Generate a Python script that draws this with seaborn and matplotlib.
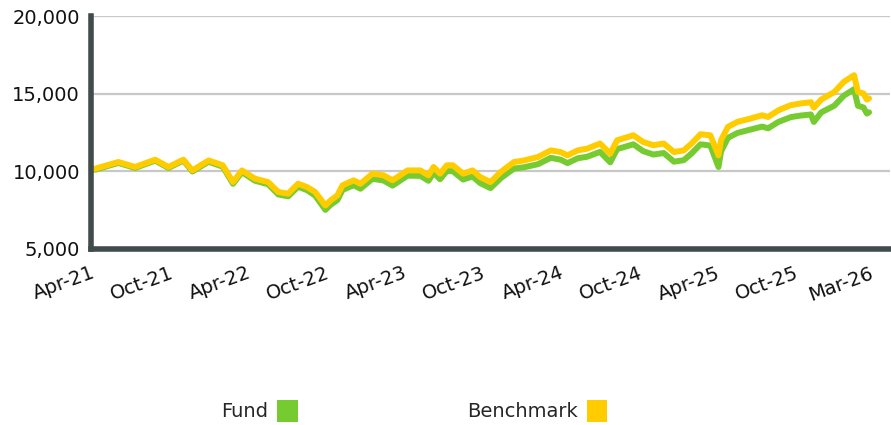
import matplotlib
matplotlib.use("Agg")
import matplotlib.pyplot as plt
import matplotlib.transforms as mtransforms
from matplotlib.patches import Patch
import pandas as pd
import seaborn as sns

dates = ["2021-04-01", "2021-04-11", "2021-06-04", "2021-07-13", "2021-08-29", "2021-09-29",
         "2021-11-03", "2021-11-24", "2022-01-01", "2022-02-03", "2022-02-27", "2022-03-20",
         "2022-04-19", "2022-05-20", "2022-06-13", "2022-07-06", "2022-07-29", "2022-08-19",
         "2022-09-07", "2022-10-01", "2022-10-13", "2022-10-29", "2022-11-10", "2022-12-06",
         "2022-12-22", "2023-01-19", "2023-02-14", "2023-03-07", "2023-04-11", "2023-05-11",
         "2023-05-30", "2023-06-11", "2023-06-26", "2023-07-12", "2023-07-26", "2023-08-19",
         "2023-09-10", "2023-09-28", "2023-10-22", "2023-11-15", "2023-12-16", "2024-01-08",
         "2024-02-10", "2024-03-11", "2024-04-03", "2024-04-19", "2024-05-13", "2024-06-04",
         "2024-07-04", "2024-07-28", "2024-08-13", "2024-09-20", "2024-10-13", "2024-11-06",
         "2024-11-30", "2024-12-24", "2025-01-16", "2025-02-03", "2025-02-24", "2025-03-19",
         "2025-04-07", "2025-04-13", "2025-04-29", "2025-05-21", "2025-06-21", "2025-07-18",
         "2025-08-01", "2025-08-25", "2025-09-23", "2025-10-16", "2025-11-09", "2025-11-16",
         "2025-12-03", "2026-01-03", "2026-01-25", "2026-02-18", "2026-02-27", "2026-03-12",
         "2026-03-20", "2026-03-25"]

benchmark = [10150, 10170, 10600, 10280, 10750, 10280,
             10750, 10060, 10700, 10390, 9310, 10060,
             9530, 9310, 8670, 8560, 9200, 8990,
             8670, 7800, 8130, 8450, 9100, 9420,
             9200, 9850, 9740, 9420, 10060, 10060,
             9740, 10280, 9850, 10390, 10390, 9850,
             10060, 9630, 9310, 9960, 10600, 10700,
             10920, 11350, 11240, 11030, 11350, 11460,
             11790, 11140, 12000, 12320, 11890, 11680,
             11790, 11240, 11350, 11790, 12390, 12320,
             11030, 12000, 12860, 13180, 13400, 13610,
             13500, 13930, 14260, 14370, 14450, 14100,
             14620, 15110, 15760, 16190, 15110, 15010,
             14620, 14700]

fund = [10100, 10110, 10540, 10220, 10690, 10220,
        10690, 9990, 10620, 10300, 9200, 9950,
        9400, 9170, 8510, 8390, 9010, 8790,
        8440, 7520, 7840, 8150, 8800, 9110,
        8880, 9520, 9410, 9080, 9720, 9710,
        9390, 9920, 9490, 10020, 10010, 9470,
        9670, 9240, 8920, 9560, 10180, 10260,
        10460, 10870, 10750, 10530, 10840, 10940,
        11250, 10580, 11430, 11740, 11300, 11080,
        11180, 10620, 10720, 11150, 11740, 11660,
        10280, 11280, 12150, 12470, 12690, 12880,
        12770, 13180, 13490, 13590, 13660, 13180,
        13790, 14230, 14870, 15290, 14220, 14110,
        13720, 13800]

tick_dates = ["2021-04-01", "2021-10-01", "2022-04-01", "2022-10-01", "2023-04-01",
              "2023-10-01", "2024-04-01", "2024-10-01", "2025-04-01", "2025-10-01",
              "2026-03-25"]
tick_labels = ["Apr-21", "Oct-21", "Apr-22", "Oct-22", "Apr-23", "Oct-23",
               "Apr-24", "Oct-24", "Apr-25", "Oct-25", "Mar-26"]
y_ticks = [5000, 10000, 15000, 20000]
y_labels = ["5,000", "10,000", "15,000", "20,000"]

series_names = ["Fund", "Benchmark"]
colors = {"Fund": "#76CB31", "Benchmark": "#FFCC00"}

df = pd.concat([
    pd.DataFrame({"date": pd.to_datetime(dates), "value": fund, "series": "Fund"}),
    pd.DataFrame({"date": pd.to_datetime(dates), "value": benchmark, "series": "Benchmark"}),
])

sns.set_theme(style="white")
plt.rcParams["font.family"] = ["DejaVu Sans"]

fig = plt.figure(figsize=(8.91, 4.25), dpi=100)
ax = fig.add_axes([91 / 891, 1 - 249 / 425, (890 - 91) / 891, (249 - 16) / 425])

sns.lineplot(data=df, x="date", y="value", hue="series", hue_order=series_names,
             palette=colors, linewidth=4.3, ax=ax, legend=False)

ax.set_xlim(pd.Timestamp("2021-04-01"), pd.Timestamp("2026-05-13"))
ax.set_ylim(5000, 20000)
ax.set_yticks(y_ticks)
ax.set_yticklabels(y_labels, fontsize=14, color="#111111")
ax.set_xticks(pd.to_datetime(tick_dates))
ax.set_xticklabels(tick_labels, fontsize=14, color="#111111", rotation=20,
                   ha="right", va="top", rotation_mode="anchor")
offset = mtransforms.ScaledTranslation(7 / 100, 0, fig.dpi_scale_trans)
for lab in ax.get_xticklabels():
    lab.set_transform(lab.get_transform() + offset)
ax.set_xlabel("")
ax.set_ylabel("")

ax.grid(axis="y", color="#C8C8C8", linewidth=1.6)
ax.grid(axis="x", visible=False)
ax.set_axisbelow(True)

for side in ["top", "right"]:
    ax.spines[side].set_visible(False)
for side in ["left", "bottom"]:
    ax.spines[side].set_color("#404B4D")
    ax.spines[side].set_linewidth(4)
    ax.spines[side].set_zorder(5)

ax.tick_params(axis="y", length=0, pad=8)
ax.tick_params(axis="x", length=7.5, width=2, color="#404B4D", pad=3, direction="out")

handles = [Patch(facecolor=colors[n], edgecolor="none", label=n) for n in series_names]
fig.legend(handles=handles, loc="center", bbox_to_anchor=(0.465, 1 - 411 / 425), ncol=2,
           frameon=False, markerfirst=False, fontsize=14, handlelength=1.07,
           handleheight=1.34, handletextpad=0.45, columnspacing=8.7)

fig.savefig("out.png", dpi=100)
